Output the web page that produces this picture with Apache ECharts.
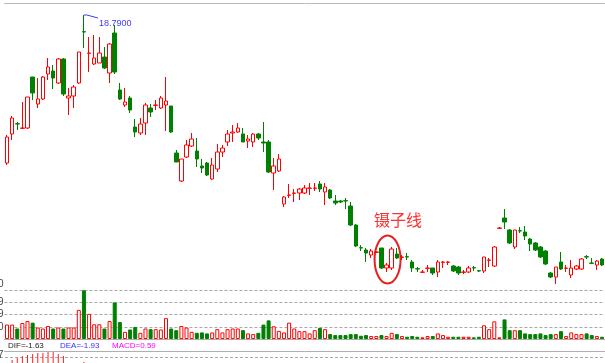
<!DOCTYPE html>
<html><head><meta charset="utf-8">
<script src="https://cdn.jsdelivr.net/npm/echarts@6/dist/echarts.min.js"></script>
<style>html,body{margin:0;padding:0;background:#fff}#c{width:605px;height:363px}</style>
</head><body><div id="c"></div>
<script>
const opens=[14.35,15.22,15.53,15.39,15.40,16.93,16.12,16.27,17.02,17.11,16.75,17.47,16.30,16.36,16.75,18.29,17.64,17.32,17.35,17.53,
17.05,18.25,16.54,16.09,16.30,15.43,15.25,15.55,16.00,16.08,16.00,16.09,16.06,14.65,13.81,14.53,14.86,14.71,14.26,14.35,
13.87,14.17,14.68,14.98,15.25,15.28,15.22,15.01,14.98,15.22,14.98,14.98,14.05,14.11,13.12,13.38,13.44,13.45,13.45,13.59,
13.59,13.72,13.48,13.54,13.21,13.21,13.22,13.06,12.49,11.81,11.74,11.59,11.67,11.80,11.20,11.20,11.62,11.52,11.54,11.38,
11.18,11.07,11.19,11.20,11.08,11.37,11.37,11.26,11.23,11.07,11.08,11.21,11.12,11.11,11.43,11.26,12.39,12.70,12.34,11.83,
12.32,12.28,12.07,11.95,11.83,11.71,11.05,10.93,11.38,11.19,10.99,11.17,11.17,11.54,11.35,11.29,11.47];
const closes=[15.13,15.70,15.52,15.40,16.33,16.45,16.27,16.93,17.23,16.90,17.47,16.42,16.36,16.63,17.68,18.28,17.65,17.50,17.65,17.20,
17.92,17.08,16.27,16.18,15.94,15.28,15.52,16.09,15.88,16.09,16.30,16.21,15.28,14.38,14.47,14.89,15.07,14.47,14.20,13.99,
14.29,14.68,14.80,15.22,15.28,15.40,14.98,15.07,15.22,15.10,14.95,14.08,14.26,14.47,13.33,13.39,13.45,13.57,13.60,13.60,
13.60,13.57,13.63,13.30,13.15,13.18,13.21,12.49,11.86,11.80,11.65,11.71,11.68,11.20,11.29,11.77,11.50,11.53,11.53,11.20,
11.17,11.08,11.20,11.05,11.38,11.38,11.38,11.11,11.05,11.08,11.20,11.20,11.11,11.53,11.44,11.83,12.40,12.58,11.95,12.34,
12.31,12.16,11.92,11.74,11.53,11.32,10.93,11.23,11.17,11.20,11.20,11.26,11.47,11.53,11.34,11.41,11.29];
const lows=[14.29,15.04,15.34,15.37,15.37,16.24,16.00,16.24,16.84,16.57,16.72,16.36,15.79,16.00,16.72,17.80,17.08,17.29,17.35,17.17,
16.75,17.02,16.24,16.03,15.85,15.13,15.19,15.19,15.73,15.94,15.97,15.31,15.25,14.38,13.78,14.50,14.83,14.23,14.05,13.96,
13.84,14.08,14.53,14.86,14.98,15.25,14.98,14.80,14.83,15.04,14.68,14.05,13.54,14.08,13.03,13.30,13.18,13.24,13.42,13.39,
13.51,13.48,13.09,13.27,13.09,13.15,12.97,12.46,11.83,11.71,11.38,11.50,11.66,11.17,11.08,11.14,11.47,11.44,11.44,11.08,
11.08,11.05,11.08,10.99,10.93,11.20,11.29,11.08,10.99,11.02,11.05,11.11,11.08,11.05,11.23,11.23,12.37,12.37,11.92,11.77,
12.25,12.04,11.71,11.71,11.50,11.29,10.90,10.72,11.14,11.08,10.90,11.14,11.14,11.47,11.32,11.14,11.26];
const highs=[15.19,15.76,15.58,16.18,16.33,16.93,16.90,16.96,17.50,17.29,17.50,17.50,16.60,16.69,17.68,18.79,18.13,18.19,18.13,17.83,
17.95,18.49,16.75,16.60,16.36,15.67,15.70,16.15,16.12,16.24,16.36,16.93,16.06,14.74,14.47,15.04,15.25,15.10,14.47,14.38,
14.50,14.92,14.89,15.34,15.49,15.55,15.40,15.19,15.25,15.25,15.58,15.04,14.50,14.62,13.36,13.72,13.57,13.60,13.69,13.75,
13.75,13.81,13.75,13.57,13.39,13.24,13.30,13.18,12.52,11.89,11.80,11.77,11.70,11.80,11.35,11.83,11.80,11.59,11.65,11.44,
11.23,11.14,11.29,11.20,11.44,11.41,11.41,11.29,11.26,11.14,11.26,11.26,11.14,11.53,11.50,11.86,12.43,12.97,12.37,12.34,
12.43,12.46,12.10,11.98,11.86,11.74,11.08,11.23,11.68,11.29,11.44,11.29,11.50,11.59,11.50,11.44,11.50];
const volumes=[1470,1470,1070,1630,1830,1670,1170,1070,1330,1070,1170,1070,1170,1170,2970,4970,2570,1500,1500,1070,
1830,3730,1730,730,970,1230,630,1070,1000,1000,970,2130,1070,900,1330,1170,730,630,670,570,
670,1000,670,1000,1070,1070,900,570,500,630,1470,1900,1300,830,670,1670,1070,800,800,570,
900,1130,1000,500,400,400,400,500,500,330,400,300,300,400,300,630,500,300,230,300,
230,170,300,300,570,400,230,230,230,230,230,170,230,1400,1000,1800,170,2000,900,900,
900,570,500,500,570,400,500,500,800,300,670,500,500,570,400,300,230];
const macdHist=[0.46,0.51,0.53,0.55,0.56,0.57,0.58,0.58,0.59,0.59,0.57,0.55,0.47,0.45,0.47,0.49,0.46];
const categories=opens.map((_,i)=>String(i+1));
const markerText='镊子线';
const difText='DIF=-1.63', deaText='DEA=-1.93', macdText='MACD=0.59';

const UP='#ff0000', DOWN='#008000';
const candleData=opens.map((o,i)=>[o,closes[i],lows[i],highs[i]]);
const volData=volumes.map((v,i)=>({value:v,itemStyle: closes[i]>=opens[i]
  ? {color:'#ffffff',borderColor:UP,borderWidth:1}
  : {color:DOWN,borderColor:DOWN,borderWidth:1}}));

const chart=echarts.init(document.getElementById('c'));
const gl=4.43, gr=0.43;
const hidden={axisTick:{show:false},axisLabel:{show:false}};
const g=(top,height)=>({left:gl,right:gr,top:top,height:height});
chart.setOption({
  animation:false,
  backgroundColor:'#ffffff',
  grid:[g(3,285),g(290,49),g(351,12)],
  xAxis:[
    Object.assign({type:'category',data:categories,gridIndex:0,position:'top',boundaryGap:true,axisLine:{show:true,lineStyle:{color:'#bbbbbb'}},splitLine:{show:false}},hidden),
    Object.assign({type:'category',data:categories,gridIndex:1,boundaryGap:true,axisLine:{show:true,lineStyle:{color:'#aaaaaa'}},splitLine:{show:false}},hidden),
    Object.assign({type:'category',data:categories,gridIndex:2,position:'top',boundaryGap:true,axisLine:{show:true,lineStyle:{color:'#b0b0b0'}},splitLine:{show:false}},hidden)
  ],
  yAxis:[
    {type:'value',gridIndex:0,min:10.60,max:19.15,show:false},
    Object.assign({type:'value',gridIndex:1,min:0,max:5000,interval:1250,axisLine:{show:false},splitLine:{show:true,lineStyle:{color:'#a8a8a8',type:[3,2]}}},hidden),
    {type:'value',gridIndex:2,min:0.48,max:0.60,show:false}
  ],
  series:[
    {type:'candlestick',xAxisIndex:0,yAxisIndex:0,data:candleData,barWidth:4,
     itemStyle:{color:'#ffffff',color0:DOWN,borderColor:UP,borderColor0:DOWN,borderWidth:1}},
    {type:'bar',xAxisIndex:1,yAxisIndex:1,data:volData,barWidth:4},
    {type:'bar',xAxisIndex:2,yAxisIndex:2,data:macdHist,barWidth:1,itemStyle:{color:'#ff2020'}}
  ]
});

// annotations
let hiIdx=0; highs.forEach((h,i)=>{ if(h>highs[hiIdx]) hiIdx=i; });
const hp=chart.convertToPixel({gridIndex:0},[hiIdx,highs[hiIdx]]);
const ti=74;
const tHi=Math.max(highs[ti-1],highs[ti],highs[ti+1]), tLo=Math.min(lows[ti-1],lows[ti],lows[ti+1]);
const ep=chart.convertToPixel({gridIndex:0},[ti,(tHi+tLo)/2]);
const dl=chart.convertToPixel({gridIndex:2},[0,0.54]);
const lblFont='10px "Liberation Sans", Arial, sans-serif';
const txtFont='8px "Liberation Sans", Arial, sans-serif';
chart.setOption({graphic:[
  {type:'line',z:-1,shape:{x1:0,y1:Math.round(dl[1])+0.5,x2:605,y2:Math.round(dl[1])+0.5},style:{stroke:'#a8a8a8',lineWidth:1,lineDash:[3,2]}},
  {type:'polyline',shape:{points:[[hp[0],hp[1]],[hp[0]+3,hp[1]],[hp[0]+14,hp[1]+3]]},style:{stroke:'#3a3aff',lineWidth:1,fill:null}},
  {type:'text',x:hp[0]+15,y:hp[1]+9,style:{text:highs[hiIdx].toFixed(4),fill:'#3a3aff',font:'9px "Liberation Sans", Arial, sans-serif',verticalAlign:'middle'}},
  {type:'ellipse',shape:{cx:ep[0]+1,cy:ep[1],rx:13,ry:24},style:{fill:null,stroke:'#e82020',lineWidth:2}},
  {type:'text',x:ep[0]+11.5,y:ep[1]-40,style:{text:markerText,fill:'#ff3030',font:'16px "Noto Sans CJK SC", sans-serif',align:'center',verticalAlign:'middle'}},
  {type:'text',x:8,y:346,style:{text:difText,fill:'#202020',font:txtFont,verticalAlign:'middle'}},
  {type:'text',x:60,y:346,style:{text:deaText,fill:'#3030ff',font:txtFont,verticalAlign:'middle'}},
  {type:'text',x:112,y:346,style:{text:macdText,fill:'#ff00ff',font:txtFont,verticalAlign:'middle'}},
  {type:'text',x:3.5,y:284,style:{text:'0',fill:'#444',font:lblFont,align:'right',verticalAlign:'middle'}},
  {type:'text',x:3.5,y:302,style:{text:'9',fill:'#444',font:lblFont,align:'right',verticalAlign:'middle'}},
  {type:'text',x:3.5,y:314,style:{text:'9',fill:'#444',font:lblFont,align:'right',verticalAlign:'middle'}},
  {type:'text',x:3.5,y:327,style:{text:'0',fill:'#444',font:lblFont,align:'right',verticalAlign:'middle'}},
  {type:'text',x:3.5,y:355,style:{text:'7',fill:'#444',font:lblFont,align:'right',verticalAlign:'middle'}}
]});
</script></body></html>
